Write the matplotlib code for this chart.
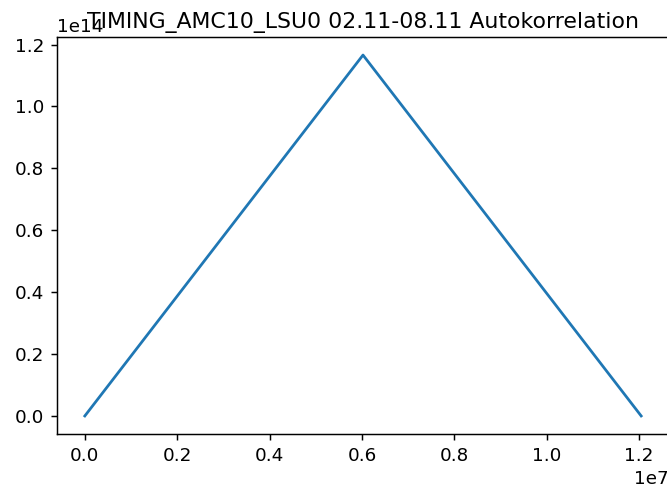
import matplotlib
matplotlib.use('Agg')
import matplotlib.pyplot as plt

# Autocorrelation of the timing series: lag vs. correlation sum
lags = [0, 6.022e6, 1.2044e7]
autocorr = [0, 1.166e14, 0]

title = 'TIMING_AMC10_LSU0 02.11-08.11 Autokorrelation'

dpi = 132
W, H = 667, 491
fig = plt.figure(figsize=(W / dpi, H / dpi), dpi=dpi)
# axes box in pixels: left 57, right 669, top 37, bottom 434
ax = fig.add_axes([57 / W, (H - 434) / H, (669 - 57) / W, (434 - 37) / H])

ax.plot(lags, autocorr)
# fixed y keeps the title down next to the 1e14 offset label
ax.set_title(title, y=1.0, pad=5)

fig.savefig('out.png', dpi=dpi)
